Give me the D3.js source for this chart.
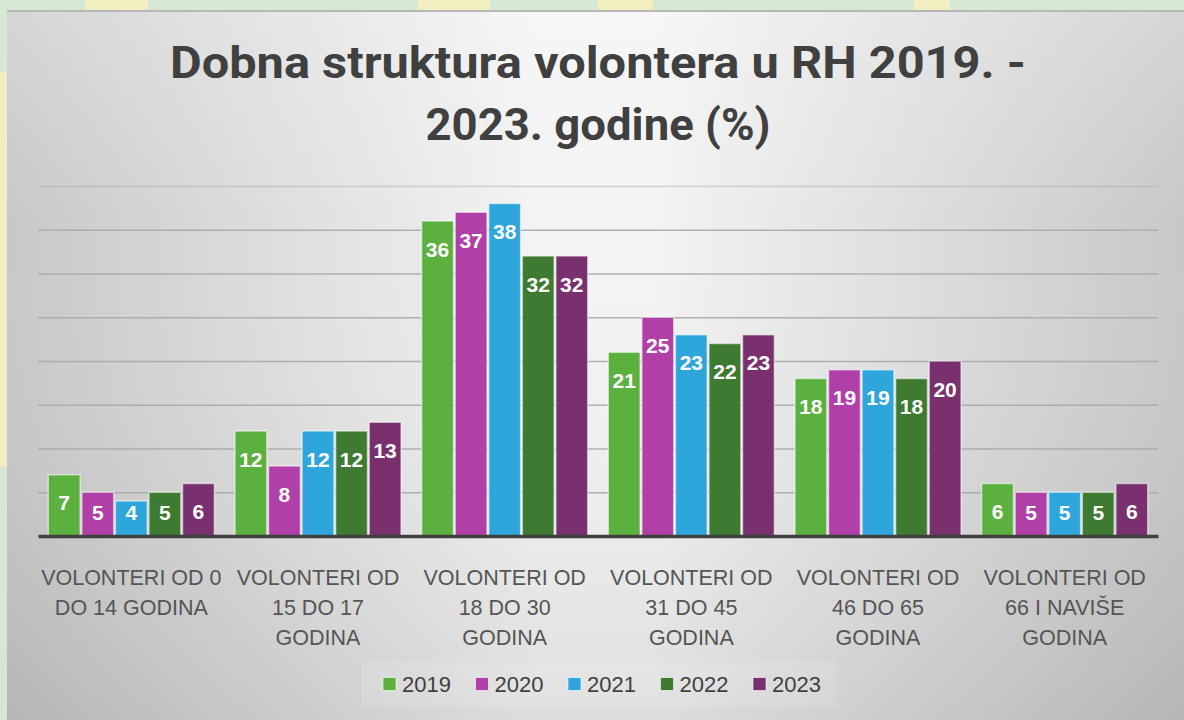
<!DOCTYPE html>
<html>
<head>
<meta charset="utf-8">
<script src="https://cdn.jsdelivr.net/npm/d3@7"></script>
<style>
  html, body { margin: 0; padding: 0; background: #d5e8d4; }
  svg { display: block; }
</style>
</head>
<body>
<svg id="chart" width="1184" height="720"></svg>
<script>
// data
const categories = [
  "VOLONTERI OD 0\nDO 14 GODINA",
  "VOLONTERI OD\n15 DO 17\nGODINA",
  "VOLONTERI OD\n18 DO 30\nGODINA",
  "VOLONTERI OD\n31 DO 45\nGODINA",
  "VOLONTERI OD\n46 DO 65\nGODINA",
  "VOLONTERI OD\n66 I NAVIŠE\nGODINA"
];
const years = ["2019", "2020", "2021", "2022", "2023"];
const values2019 = [7, 12, 36, 21, 18, 6];
const values2020 = [5, 8, 37, 25, 19, 5];
const values2021 = [4, 12, 38, 23, 19, 5];
const values2022 = [5, 12, 32, 22, 18, 5];
const values2023 = [6, 13, 32, 23, 20, 6];
const yTicks = [0, 5, 10, 15, 20, 25, 30, 35, 40];
const titleLines = ["Dobna struktura volontera u RH 2019. -", "2023. godine (%)"];

const seriesValues = [values2019, values2020, values2021, values2022, values2023];
const colors = ["#5cb03e", "#b03fa8", "#2ea6dc", "#3f7a32", "#78306e"];

const svg = d3.select("#chart");
const defs = svg.append("defs");

// backdrop: green border with a few yellow patches
svg.append("rect").attr("width", 1184).attr("height", 720).attr("fill", "#d5e8d4");
[[85, 0, 63, 10], [418, 0, 72, 10], [598, 0, 55, 10], [914, 0, 36, 10], [0, 72, 7, 395]]
  .forEach(([x, y, w, h]) => {
    svg.append("rect").attr("x", x).attr("y", y).attr("width", w).attr("height", h).attr("fill", "#f2eec0");
  });

// grey panel gradient
const hGrad = defs.append("linearGradient").attr("id", "hgrad").attr("x1", 0).attr("x2", 1).attr("y1", 0).attr("y2", 0);
hGrad.append("stop").attr("offset", "0%").attr("stop-color", "#c8c8c8");
hGrad.append("stop").attr("offset", "45%").attr("stop-color", "#f3f3f3");
hGrad.append("stop").attr("offset", "55%").attr("stop-color", "#f3f3f3");
hGrad.append("stop").attr("offset", "100%").attr("stop-color", "#c8c8c8");

const vGrad = defs.append("linearGradient").attr("id", "vgrad").attr("x1", 0).attr("x2", 0).attr("y1", 0).attr("y2", 1);
vGrad.append("stop").attr("offset", "0%").attr("stop-color", "#fff").attr("stop-opacity", 0.25);
vGrad.append("stop").attr("offset", "30%").attr("stop-color", "#fff").attr("stop-opacity", 0);
vGrad.append("stop").attr("offset", "100%").attr("stop-color", "#000").attr("stop-opacity", 0.09);

svg.append("rect").attr("x", 7).attr("y", 10).attr("width", 1177).attr("height", 710).attr("fill", "url(#hgrad)");
svg.append("rect").attr("x", 7).attr("y", 10).attr("width", 1177).attr("height", 710).attr("fill", "url(#vgrad)");
svg.append("line").attr("x1", 7).attr("x2", 1184).attr("y1", 11).attr("y2", 11)
  .attr("stroke", "#b8b8b8").attr("stroke-width", 2);

// title
const title = svg.append("g");
title.selectAll("text")
  .data(titleLines)
  .join("text")
    .attr("x", 598)
    .attr("y", (d, i) => 78 + i * 62)
    .attr("text-anchor", "middle")
    .attr("font-family", "Roboto, 'Liberation Sans', sans-serif")
    .attr("font-weight", 700)
    .attr("font-size", 45)
    .attr("fill", "#404040")
    .attr("textLength", (d, i) => i === 0 ? 856 : 345)
    .attr("lengthAdjust", "spacingAndGlyphs")
    .text(d => d);

// scales
const left = 38, right = 1158, baseY = 536, topY = 186;

const x0 = d3.scaleBand()
  .domain(categories)
  .range([left, right])
  .paddingInner(0.11)
  .paddingOuter(0.055);

const x1 = d3.scaleBand()
  .domain(years)
  .range([0, x0.bandwidth()])
  .paddingInner(0.05);

const y = d3.scaleLinear()
  .domain([0, 40])
  .range([baseY, topY]);

// gridlines
const grid = svg.append("g")
  .attr("transform", `translate(${left},0)`)
  .call(d3.axisLeft(y).tickValues(yTicks.slice(1)).tickSize(-(right - left)).tickFormat(""));
grid.select(".domain").remove();
grid.selectAll(".tick line")
  .attr("stroke", "#a8a8a8")
  .attr("stroke-width", 1.6)
  .attr("stroke-opacity", d => d === 40 ? 0.45 : 0.9);

// bars
const groups = svg.append("g")
  .selectAll("g")
  .data(categories)
  .join("g")
    .attr("transform", d => `translate(${x0(d)},0)`);

const cells = groups.selectAll("g")
  .data((c, ci) => years.map((yr, si) => ({ year: yr, si: si, value: seriesValues[si][ci] })))
  .join("g");

cells.append("rect")
  .attr("x", d => x1(d.year))
  .attr("y", d => y(d.value))
  .attr("width", x1.bandwidth())
  .attr("height", d => baseY - y(d.value))
  .attr("fill", d => colors[d.si])
  .attr("stroke", "rgba(255,255,255,0.55)")
  .attr("stroke-width", 1.5);

cells.append("text")
  .attr("x", d => x1(d.year) + x1.bandwidth() / 2)
  .attr("y", d => Math.min(y(d.value) + 28, baseY - 24))
  .attr("text-anchor", "middle")
  .attr("dominant-baseline", "central")
  .attr("font-family", "'Liberation Sans', Arial, sans-serif")
  .attr("font-weight", 700)
  .attr("font-size", 21)
  .attr("fill", "#ffffff")
  .text(d => d.value);

// baseline axis + category labels
const xAxis = svg.append("g")
  .attr("transform", `translate(0,${baseY})`)
  .call(d3.axisBottom(x0).tickSize(0).tickFormat(""));
xAxis.select(".domain")
  .attr("stroke", "#404040")
  .attr("stroke-width", 3.5);

xAxis.selectAll(".tick text").remove();
xAxis.selectAll(".tick")
  .append("text")
    .attr("fill", "#555555")
    .attr("font-family", "'Liberation Sans', Arial, sans-serif")
    .attr("font-size", 21.5)
    .attr("text-anchor", "middle")
    .selectAll("tspan")
    .data(d => d.split("\n"))
    .join("tspan")
      .attr("x", 0)
      .attr("y", (d, i) => 49 + i * 30)
      .text(d => d);

// legend
const legend = svg.append("g");
legend.append("rect")
  .attr("x", 362).attr("y", 662).attr("width", 474).attr("height", 45)
  .attr("fill", "#ffffff").attr("fill-opacity", 0.12);

const legendX = d3.scalePoint().domain(years).range([383, 753]);

const items = legend.selectAll("g.item")
  .data(years)
  .join("g")
    .attr("class", "item")
    .attr("transform", d => `translate(${legendX(d)},684)`);

items.append("rect")
  .attr("x", 0).attr("y", -6.5)
  .attr("width", 13).attr("height", 13)
  .attr("fill", (d, i) => colors[i])
  .attr("stroke", "rgba(255,255,255,0.6)")
  .attr("stroke-width", 1);

items.append("text")
  .attr("x", 19)
  .attr("y", 0)
  .attr("dominant-baseline", "central")
  .attr("font-family", "'Liberation Sans', Arial, sans-serif")
  .attr("font-size", 22)
  .attr("fill", "#404040")
  .text(d => d);
</script>
</body>
</html>
